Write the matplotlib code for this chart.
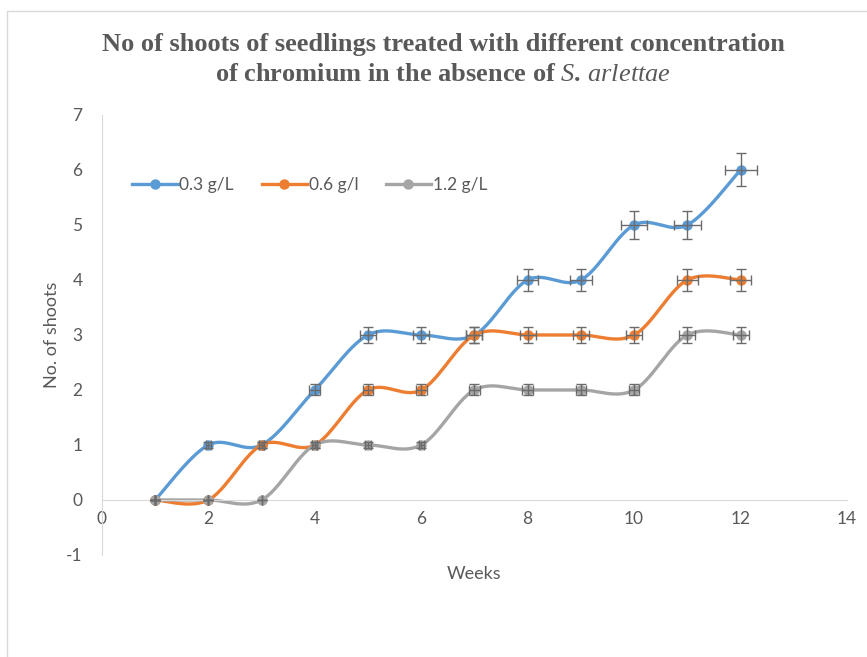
import numpy as np
import matplotlib.pyplot as plt
from matplotlib.patches import Rectangle

# data
weeks = [1, 2, 3, 4, 5, 6, 7, 8, 9, 10, 11, 12]
shoots_03 = [0, 1, 1, 2, 3, 3, 3, 4, 4, 5, 5, 6]
shoots_06 = [0, 0, 1, 1, 2, 2, 3, 3, 3, 3, 4, 4]
shoots_12 = [0, 0, 0, 1, 1, 1, 2, 2, 2, 2, 3, 3]
# 5 % error bars (both directions)
err_03 = [0, 0.05, 0.05, 0.1, 0.15, 0.15, 0.15, 0.2, 0.2, 0.25, 0.25, 0.3]
err_06 = [0, 0, 0.05, 0.05, 0.1, 0.1, 0.15, 0.15, 0.15, 0.15, 0.2, 0.2]
err_12 = [0, 0, 0, 0.05, 0.05, 0.05, 0.1, 0.1, 0.1, 0.1, 0.15, 0.15]
labels = ["0.3 g/L", "0.6 g/l", "1.2 g/L"]
colors = ["#5B9BD5", "#ED7D31", "#A5A5A5"]

TXT = "#595959"
plt.rcParams['font.family'] = ['Lato', 'DejaVu Sans']
plt.rcParams['axes.unicode_minus'] = False
plt.rcParams['mathtext.fontset'] = 'custom'
plt.rcParams['mathtext.it'] = 'Liberation Serif:italic'
plt.rcParams['mathtext.rm'] = 'Liberation Serif:bold'


def smooth(x, y, n=30):
    """Excel-like smoothed line (Catmull-Rom style Bezier segments)."""
    p = np.column_stack([x, y]).astype(float)
    p_ext = np.vstack([p[0], p, p[-1]])
    t = np.linspace(0, 1, n)[:, None]
    out = []
    for i in range(len(p) - 1):
        p0, p1, p2, p3 = p_ext[i], p_ext[i + 1], p_ext[i + 2], p_ext[i + 3]
        c1 = p1 + (p2 - p0) / 6
        c2 = p2 - (p3 - p1) / 6
        seg = ((1 - t) ** 3) * p1 + 3 * ((1 - t) ** 2) * t * c1 + 3 * (1 - t) * t ** 2 * c2 + t ** 3 * p2
        out.append(seg if i == 0 else seg[1:])
    s = np.vstack(out)
    return s[:, 0], s[:, 1]


fig = plt.figure(figsize=(8.67, 6.57), dpi=100)
ax = fig.add_axes([0.1176, 0.1553, 0.8593, 0.6697])

fig.patches.append(Rectangle((7 / 867, -0.1), 1.2, 1 - 11 / 657 + 0.1, transform=fig.transFigure,
                             fill=False, edgecolor="#D9D9D9", linewidth=1))

series = [shoots_03, shoots_06, shoots_12]
errs = [err_03, err_06, err_12]
for vals, err, lab, col in zip(series, errs, labels, colors):
    sx, sy = smooth(weeks, vals)
    ax.plot(sx, sy, color=col, lw=2.4, solid_capstyle='round', zorder=2)
    ax.plot(weeks, vals, 'o', color=col, ms=6.5, zorder=3)
    ax.plot([], [], '-o', color=col, lw=2.4, ms=6.5, label=lab)
for vals, err in zip(series, errs):
    ax.errorbar(weeks, vals, yerr=err, xerr=err, fmt='none', ecolor="#6b6b6b",
                elinewidth=1, capsize=3.5, capthick=1, zorder=4)

ax.set_xlim(0, 14)
ax.set_ylim(-1, 7)
ax.set_xticks(range(0, 15, 2))
ax.set_yticks(range(-1, 8))

for s in ['top', 'right']:
    ax.spines[s].set_visible(False)
ax.spines['bottom'].set_position(('data', 0))
ax.spines['bottom'].set_color("#D9D9D9")
ax.spines['left'].set_color("#D9D9D9")
ax.tick_params(axis='both', length=0, labelsize=12.5, labelcolor=TXT)
ax.tick_params(axis='y', pad=14)
ax.tick_params(axis='x', pad=8)

ax.set_xlabel("Weeks", fontsize=13, color=TXT, labelpad=28)
ax.set_ylabel("No. of shoots", fontsize=13, color=TXT, labelpad=4)

fig.text(0.511, 0.932, "No of shoots of seedlings treated with different concentration",
         ha='center', va='center', fontsize=19, fontweight='bold', color=TXT,
         family='Liberation Serif')
fig.text(0.511, 0.886, r"of chromium in the absence of $\mathit{S.\,arlettae}$",
         ha='center', va='center', fontsize=19, fontweight='bold', color=TXT,
         family='Liberation Serif')

ax.legend(loc='upper left', bbox_to_anchor=(0.02, 0.895), ncol=3, frameon=False,
          fontsize=12.5, labelcolor=TXT, handlelength=2.6, handletextpad=0.1,
          columnspacing=1.6)

fig.savefig("out.png", dpi=100)
